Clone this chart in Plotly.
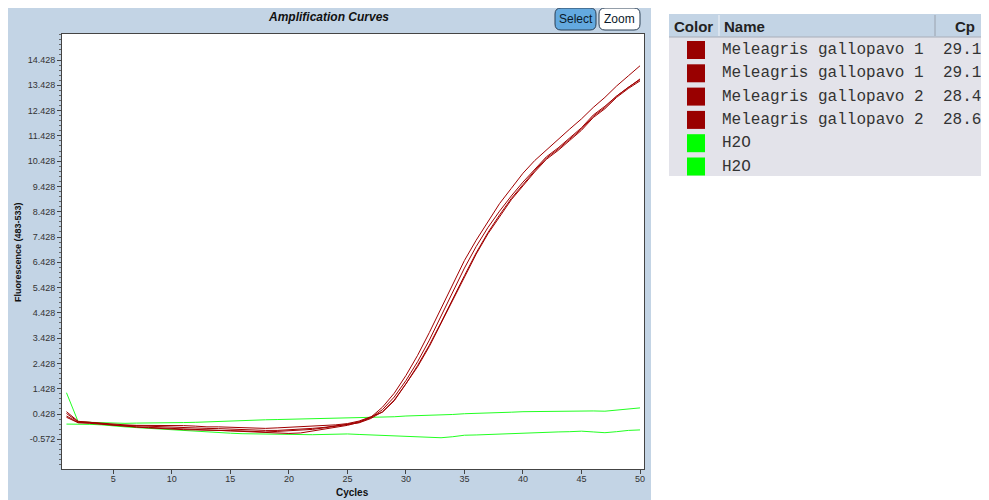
import plotly.graph_objects as go

# page body has an 8px margin, so the figure starts at (8, 8) in the window
OFF = 8
W, H = 989 - 2 * OFF, 500 - OFF

cycles = list(range(1, 51))

# Sample names / Cp values (table on right)
sample_names = ["Meleagris gallopavo 1", "Meleagris gallopavo 1",
                "Meleagris gallopavo 2", "Meleagris gallopavo 2", "H2O", "H2O"]
sample_cp = ["29.19", "29.19", "28.46", "28.67", "", ""]
sample_colors = ["#990000", "#990000", "#990000", "#990000", "#00FF00", "#00FF00"]

# Fluorescence (483-533) per cycle
mg1a = [0.52, 0.14, 0.10, 0.06, 0.02, 0.00, -0.02, -0.02, -0.03, -0.04, -0.03, -0.05, -0.08,
        -0.08, -0.10, -0.12, -0.13, -0.14, -0.12, -0.10, -0.08, -0.06, -0.03, 0.00, 0.05, 0.15,
        0.32, 0.50, 0.95, 1.60, 2.30, 3.10, 4.00, 4.95, 5.85, 6.75, 7.55, 8.25, 8.90, 9.45,
        10.00, 10.50, 10.85, 11.25, 11.65, 12.15, 12.50, 12.95, 13.30, 13.60]
mg1b = [0.30, 0.08, 0.06, 0.02, -0.03, -0.06, -0.09, -0.12, -0.15, -0.18, -0.19, -0.20, -0.20,
        -0.22, -0.23, -0.24, -0.26, -0.28, -0.26, -0.24, -0.22, -0.18, -0.12, -0.06, 0.00, 0.08,
        0.25, 0.52, 0.98, 1.62, 2.35, 3.15, 4.05, 5.00, 5.90, 6.80, 7.60, 8.30, 8.95, 9.50,
        10.05, 10.55, 10.90, 11.30, 11.70, 12.20, 12.55, 13.00, 13.35, 13.65]
mg2a = [0.45, 0.12, 0.10, 0.05, 0.00, -0.02, -0.04, -0.05, -0.07, -0.08, -0.10, -0.12, -0.14,
        -0.15, -0.17, -0.18, -0.20, -0.22, -0.22, -0.20, -0.18, -0.14, -0.10, -0.05, 0.02, 0.12,
        0.30, 0.70, 1.25, 1.95, 2.75, 3.65, 4.60, 5.60, 6.50, 7.30, 8.05, 8.75, 9.35, 9.95,
        10.45, 10.87, 11.30, 11.70, 12.10, 12.55, 12.95, 13.40, 13.80, 14.20]
mg2b = [0.35, 0.10, 0.08, 0.04, -0.02, -0.05, -0.08, -0.10, -0.12, -0.15, -0.18, -0.20, -0.22,
        -0.24, -0.25, -0.26, -0.28, -0.30, -0.32, -0.34, -0.32, -0.25, -0.18, -0.10, -0.02, 0.10,
        0.28, 0.60, 1.10, 1.75, 2.50, 3.35, 4.30, 5.30, 6.20, 7.05, 7.80, 8.45, 9.05, 9.60,
        10.10, 10.60, 10.95, 11.35, 11.75, 12.25, 12.60, 13.00, 13.35, 13.68]
h2o_a = [1.27, 0.12, 0.10, 0.08, 0.06, 0.06, 0.07, 0.07, 0.08, 0.08, 0.09, 0.10, 0.12, 0.14,
         0.15, 0.16, 0.18, 0.20, 0.21, 0.22, 0.22, 0.23, 0.24, 0.25, 0.26, 0.27, 0.28, 0.30,
         0.32, 0.35, 0.36, 0.38, 0.39, 0.41, 0.44, 0.45, 0.47, 0.48, 0.50, 0.52, 0.53, 0.52,
         0.53, 0.54, 0.54, 0.55, 0.54, 0.58, 0.62, 0.67]
h2o_b = [0.03, 0.04, 0.02, 0.00, -0.05, -0.08, -0.11, -0.14, -0.17, -0.20, -0.23, -0.26, -0.28,
         -0.31, -0.33, -0.35, -0.36, -0.37, -0.38, -0.40, -0.40, -0.39, -0.38, -0.37, -0.36,
         -0.38, -0.40, -0.43, -0.45, -0.47, -0.48, -0.50, -0.51, -0.47, -0.41, -0.40, -0.38,
         -0.36, -0.34, -0.31, -0.32, -0.30, -0.28, -0.27, -0.25, -0.28, -0.31, -0.27, -0.22, -0.20]

series = [mg1a, mg1b, mg2a, mg2b, h2o_a, h2o_b]

y_tickvals = [-0.572 + i for i in range(16)]
y_ticktext = ["%.3f" % v for v in y_tickvals]
x_tickvals = [5, 10, 15, 20, 25, 30, 35, 40, 45, 50]


def px(x):
    return (x - OFF) / W


def py(y):
    return 1 - (y - OFF) / H


fig = go.Figure()

# green first, red on top
for idx in [4, 5, 0, 1, 2, 3]:
    fig.add_trace(go.Scatter(
        x=cycles, y=series[idx], mode="lines",
        line=dict(color=("#22FF22" if idx >= 4 else "#A00000"), width=1),
        name=sample_names[idx], showlegend=False, hoverinfo="skip"))

shapes = []
# left panel background
shapes.append(dict(type="rect", xref="paper", yref="paper", x0=px(8), x1=px(651),
                   y0=py(510), y1=py(0), fillcolor="#C3D4E5", line=dict(width=0), layer="below"))
# plot area
shapes.append(dict(type="rect", xref="x domain", yref="y domain", x0=0, x1=1, y0=0, y1=1,
                   fillcolor="white", line=dict(width=0), layer="below"))


def rrect(x0, y0, x1, y1, r):
    X0, X1 = px(x0), px(x1)
    return (f"M {px(x0 + r)},{py(y0)} L {px(x1 - r)},{py(y0)} "
            f"Q {X1},{py(y0)} {X1},{py(y0 + r)} L {X1},{py(y1 - r)} "
            f"Q {X1},{py(y1)} {px(x1 - r)},{py(y1)} L {px(x0 + r)},{py(y1)} "
            f"Q {X0},{py(y1)} {X0},{py(y1 - r)} L {X0},{py(y0 + r)} "
            f"Q {X0},{py(y0)} {px(x0 + r)},{py(y0)} Z")


shapes.append(dict(type="path", xref="paper", yref="paper", path=rrect(555, 8, 596, 30, 6),
                   fillcolor="#63A9DF", line=dict(color="#2A3E55", width=1)))
shapes.append(dict(type="path", xref="paper", yref="paper", path=rrect(599, 8, 640, 30, 6),
                   fillcolor="white", line=dict(color="#2A3E55", width=1)))

# table
shapes.append(dict(type="rect", xref="paper", yref="paper", x0=px(669), x1=px(995),
                   y0=py(176), y1=py(36), fillcolor="#E3E3EA", line=dict(width=0)))
shapes.append(dict(type="rect", xref="paper", yref="paper", x0=px(669), x1=px(995),
                   y0=py(37), y1=py(14), fillcolor="#C3D4E5", line=dict(width=0)))
shapes.append(dict(type="line", xref="paper", yref="paper", x0=px(669), x1=px(995),
                   y0=py(37), y1=py(37), line=dict(color="#A8AEB8", width=1)))
shapes.append(dict(type="line", xref="paper", yref="paper", x0=px(719), x1=px(719),
                   y0=py(15), y1=py(36), line=dict(color="#F2F4F8", width=1)))
shapes.append(dict(type="line", xref="paper", yref="paper", x0=px(935), x1=px(935),
                   y0=py(15), y1=py(36), line=dict(color="#9AA2AE", width=1)))

annotations = []
row_y0 = 50
row_h = 23.3
mono = dict(family="Liberation Mono", size=16, color="#333333")
for i, (nm, cp, col) in enumerate(zip(sample_names, sample_cp, sample_colors)):
    cy = row_y0 + i * row_h
    shapes.append(dict(type="rect", xref="paper", yref="paper", x0=px(687), x1=px(705),
                       y0=py(cy + 9), y1=py(cy - 9), fillcolor=col, line=dict(width=0)))
    annotations.append(dict(x=px(720), y=py(cy), xref="paper", yref="paper", text=nm,
                            showarrow=False, xanchor="left", yanchor="middle", font=mono))
    if cp:
        annotations.append(dict(x=px(941), y=py(cy), xref="paper", yref="paper", text=cp,
                                showarrow=False, xanchor="left", yanchor="middle", font=mono))

hdr_font = dict(family="Liberation Sans", size=15, color="#222222")
annotations.append(dict(x=px(672), y=py(26), xref="paper", yref="paper", text="<b>Color</b>",
                        showarrow=False, xanchor="left", yanchor="middle", font=hdr_font))
annotations.append(dict(x=px(722), y=py(26), xref="paper", yref="paper", text="<b>Name</b>",
                        showarrow=False, xanchor="left", yanchor="middle", font=hdr_font))
annotations.append(dict(x=px(965), y=py(26), xref="paper", yref="paper", text="<b>Cp</b>",
                        showarrow=False, xanchor="center", yanchor="middle", font=hdr_font))

# title and buttons
annotations.append(dict(x=px(328), y=py(17), xref="paper", yref="paper",
                        text="<b><i>Amplification Curves</i></b>", showarrow=False,
                        xanchor="center", yanchor="middle",
                        font=dict(family="Liberation Sans", size=12, color="#111111")))
annotations.append(dict(x=px(575.5), y=py(19), xref="paper", yref="paper", text="Select",
                        showarrow=False, xanchor="center", yanchor="middle",
                        font=dict(family="Liberation Sans Narrow, Liberation Sans", size=12,
                                  color="#0A1A2A")))
annotations.append(dict(x=px(619.5), y=py(19), xref="paper", yref="paper", text="Zoom",
                        showarrow=False, xanchor="center", yanchor="middle",
                        font=dict(family="Liberation Sans Narrow, Liberation Sans", size=12,
                                  color="#0A1A2A")))
# axis titles
annotations.append(dict(x=px(18), y=py(252), xref="paper", yref="paper",
                        text="<b>Fluorescence (483-533)</b>", textangle=-90, showarrow=False,
                        xanchor="center", yanchor="middle",
                        font=dict(family="Liberation Sans", size=9, color="#111111")))
annotations.append(dict(x=px(352), y=py(492.5), xref="paper", yref="paper",
                        text="<b>Cycles</b>", showarrow=False,
                        xanchor="center", yanchor="middle",
                        font=dict(family="Liberation Sans", size=10, color="#111111")))

fig.update_layout(
    width=W, height=H,
    margin=dict(l=0, r=0, t=0, b=0),
    paper_bgcolor="white",
    plot_bgcolor="rgba(0,0,0,0)",
    showlegend=False,
    shapes=shapes,
    annotations=annotations,
    xaxis=dict(domain=[px(62), px(644)], range=[0.617, 50.34], tickvals=x_tickvals,
               ticks="outside", ticklen=4, tickcolor="#444444", showgrid=False, zeroline=False,
               showline=True, linecolor="#444444", linewidth=1, mirror=True,
               ticklabelstandoff=-3,
               tickfont=dict(family="Liberation Sans", size=9, color="#333333"),
               automargin=False, fixedrange=True),
    yaxis=dict(domain=[py(469), py(34)], range=[-1.746, 15.456], tickvals=y_tickvals,
               ticktext=y_ticktext, ticks="outside", ticklen=4, tickcolor="#444444",
               showgrid=False, zeroline=False, showline=True, linecolor="#444444",
               linewidth=1, mirror=True,
               minor=dict(ticks="outside", ticklen=2, tick0=-0.572, dtick=0.2,
                          tickcolor="#666666", showgrid=False),
               tickfont=dict(family="Liberation Sans", size=9, color="#333333"),
               automargin=False, fixedrange=True),
)

fig.write_html("out.html")
